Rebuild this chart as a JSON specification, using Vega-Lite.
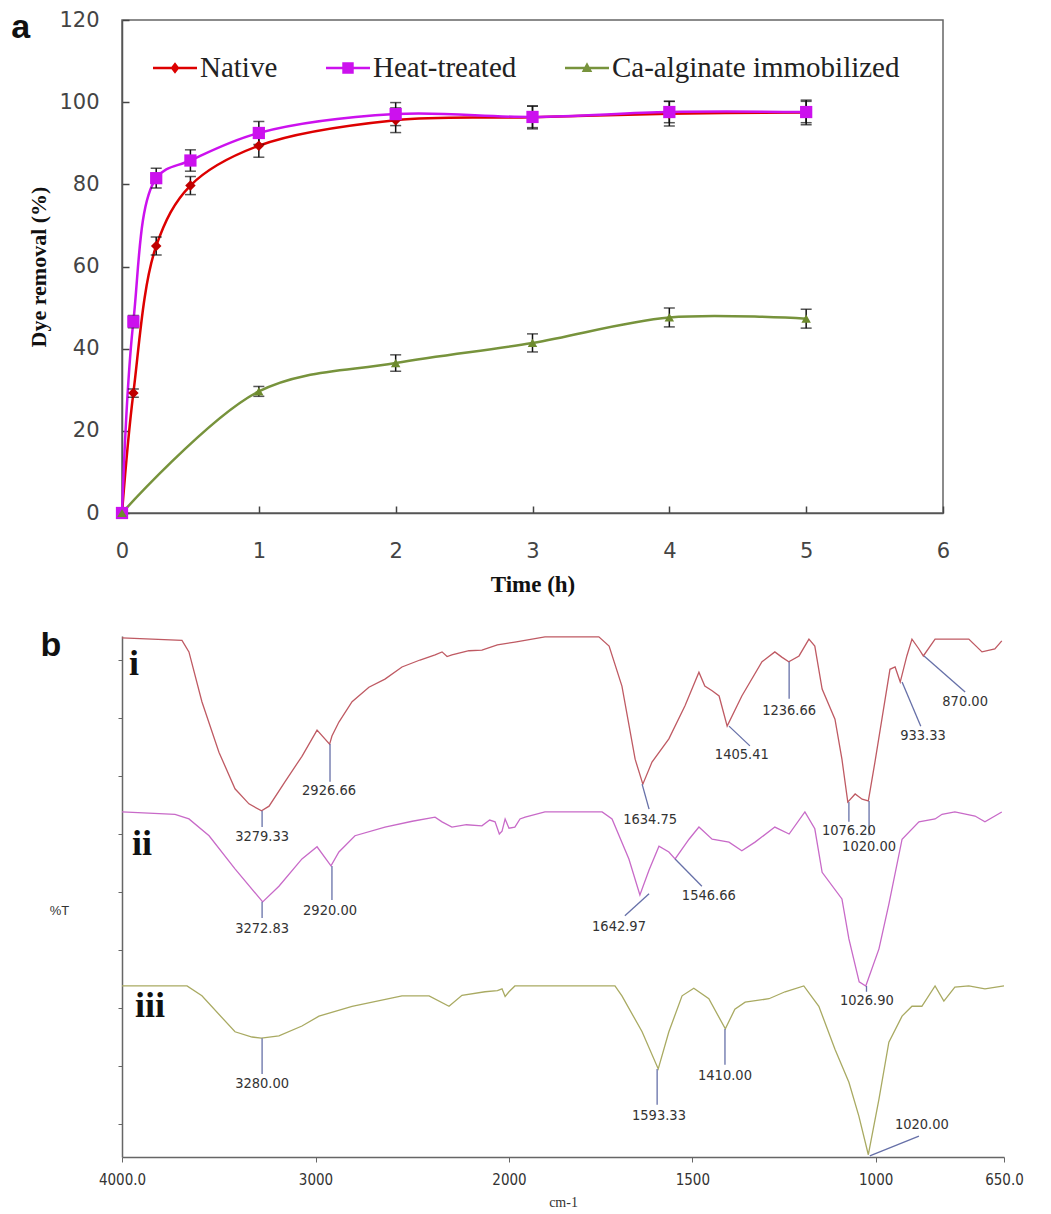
{
  "$schema": "https://vega.github.io/schema/vega-lite/v6.json",
  "background": "white",
  "padding": {"left": 10, "top": 8, "right": 5, "bottom": 5},
  "spacing": 32,
  "config": {"view": {"stroke": null}, "axis": {"grid": false}},
  "resolve": {
    "scale": {"color": "independent", "shape": "independent"},
    "legend": {"color": "independent", "shape": "independent"}
  },
  "datasets": {
    "kin": [
      {"series": "Native", "t": 0, "removal": 0, "sd": 0},
      {"series": "Native", "t": 0.083, "removal": 29.2, "sd": 1.0},
      {"series": "Native", "t": 0.25, "removal": 65.0, "sd": 2.2},
      {"series": "Native", "t": 0.5, "removal": 79.7, "sd": 2.2},
      {"series": "Native", "t": 1, "removal": 89.4, "sd": 2.8},
      {"series": "Native", "t": 2, "removal": 95.6, "sd": 3.0},
      {"series": "Native", "t": 3, "removal": 96.3, "sd": 2.8},
      {"series": "Native", "t": 4, "removal": 97.2, "sd": 3.0},
      {"series": "Native", "t": 5, "removal": 97.5, "sd": 3.0},
      {"series": "Heat-treated", "t": 0, "removal": 0, "sd": 0},
      {"series": "Heat-treated", "t": 0.083, "removal": 46.6, "sd": 1.5},
      {"series": "Heat-treated", "t": 0.25, "removal": 81.5, "sd": 2.4},
      {"series": "Heat-treated", "t": 0.5, "removal": 85.8, "sd": 2.6},
      {"series": "Heat-treated", "t": 1, "removal": 92.5, "sd": 2.8},
      {"series": "Heat-treated", "t": 2, "removal": 97.1, "sd": 2.8},
      {"series": "Heat-treated", "t": 3, "removal": 96.4, "sd": 2.6},
      {"series": "Heat-treated", "t": 4, "removal": 97.6, "sd": 2.6},
      {"series": "Heat-treated", "t": 5, "removal": 97.6, "sd": 2.6},
      {"series": "Ca-alginate immobilized", "t": 0, "removal": 0, "sd": 0},
      {"series": "Ca-alginate immobilized", "t": 1, "removal": 29.6, "sd": 1.2},
      {"series": "Ca-alginate immobilized", "t": 2, "removal": 36.5, "sd": 2.0},
      {"series": "Ca-alginate immobilized", "t": 3, "removal": 41.4, "sd": 2.2},
      {"series": "Ca-alginate immobilized", "t": 4, "removal": 47.6, "sd": 2.3},
      {"series": "Ca-alginate immobilized", "t": 5, "removal": 47.3, "sd": 2.3}
    ],
    "ftir": [
      {"trace": "i", "wn": 4000, "T": 83.8}, {"trace": "i", "wn": 3690, "T": 83.4}, {"trace": "i", "wn": 3654, "T": 81.4},
      {"trace": "i", "wn": 3587, "T": 72.8}, {"trace": "i", "wn": 3499, "T": 64.1}, {"trace": "i", "wn": 3416, "T": 57.8},
      {"trace": "i", "wn": 3344, "T": 55.2}, {"trace": "i", "wn": 3279, "T": 54.0}, {"trace": "i", "wn": 3240, "T": 54.8},
      {"trace": "i", "wn": 3158, "T": 59.0}, {"trace": "i", "wn": 3070, "T": 63.4}, {"trace": "i", "wn": 2992, "T": 67.9},
      {"trace": "i", "wn": 2927, "T": 65.5}, {"trace": "i", "wn": 2915, "T": 66.9}, {"trace": "i", "wn": 2879, "T": 69.3},
      {"trace": "i", "wn": 2811, "T": 72.8}, {"trace": "i", "wn": 2724, "T": 75.3}, {"trace": "i", "wn": 2641, "T": 76.7},
      {"trace": "i", "wn": 2553, "T": 78.8}, {"trace": "i", "wn": 2460, "T": 80.0}, {"trace": "i", "wn": 2382, "T": 80.9},
      {"trace": "i", "wn": 2346, "T": 81.4}, {"trace": "i", "wn": 2320, "T": 80.6}, {"trace": "i", "wn": 2295, "T": 80.9},
      {"trace": "i", "wn": 2207, "T": 81.6}, {"trace": "i", "wn": 2140, "T": 81.7}, {"trace": "i", "wn": 2060, "T": 82.6},
      {"trace": "i", "wn": 1984, "T": 83.1}, {"trace": "i", "wn": 1902, "T": 84.0}, {"trace": "i", "wn": 1755, "T": 84.0},
      {"trace": "i", "wn": 1727, "T": 82.4}, {"trace": "i", "wn": 1692, "T": 75.5}, {"trace": "i", "wn": 1656, "T": 62.9},
      {"trace": "i", "wn": 1635, "T": 58.6}, {"trace": "i", "wn": 1610, "T": 62.4}, {"trace": "i", "wn": 1564, "T": 66.4},
      {"trace": "i", "wn": 1520, "T": 72.1}, {"trace": "i", "wn": 1482, "T": 77.9}, {"trace": "i", "wn": 1466, "T": 75.5},
      {"trace": "i", "wn": 1446, "T": 74.7}, {"trace": "i", "wn": 1427, "T": 73.8}, {"trace": "i", "wn": 1405, "T": 68.6},
      {"trace": "i", "wn": 1365, "T": 73.8}, {"trace": "i", "wn": 1310, "T": 79.7}, {"trace": "i", "wn": 1275, "T": 81.4},
      {"trace": "i", "wn": 1256, "T": 80.5}, {"trace": "i", "wn": 1237, "T": 79.7}, {"trace": "i", "wn": 1209, "T": 80.7},
      {"trace": "i", "wn": 1182, "T": 83.6}, {"trace": "i", "wn": 1166, "T": 82.4}, {"trace": "i", "wn": 1146, "T": 75.0},
      {"trace": "i", "wn": 1111, "T": 69.8}, {"trace": "i", "wn": 1092, "T": 62.9}, {"trace": "i", "wn": 1076, "T": 55.5},
      {"trace": "i", "wn": 1056, "T": 56.9}, {"trace": "i", "wn": 1037, "T": 56.0}, {"trace": "i", "wn": 1020, "T": 55.7},
      {"trace": "i", "wn": 1002, "T": 62.4}, {"trace": "i", "wn": 983, "T": 69.8}, {"trace": "i", "wn": 961, "T": 78.4},
      {"trace": "i", "wn": 947, "T": 78.8}, {"trace": "i", "wn": 933, "T": 76.2}, {"trace": "i", "wn": 915, "T": 80.7},
      {"trace": "i", "wn": 901, "T": 83.6}, {"trace": "i", "wn": 882, "T": 81.9}, {"trace": "i", "wn": 870, "T": 80.7},
      {"trace": "i", "wn": 838, "T": 83.6}, {"trace": "i", "wn": 746, "T": 83.6}, {"trace": "i", "wn": 710, "T": 81.4},
      {"trace": "i", "wn": 675, "T": 81.9}, {"trace": "i", "wn": 656, "T": 83.3},
      {"trace": "ii", "wn": 4000, "T": 53.8}, {"trace": "ii", "wn": 3726, "T": 53.4}, {"trace": "ii", "wn": 3654, "T": 52.6},
      {"trace": "ii", "wn": 3550, "T": 49.7}, {"trace": "ii", "wn": 3416, "T": 44.0}, {"trace": "ii", "wn": 3273, "T": 38.3},
      {"trace": "ii", "wn": 3189, "T": 41.0}, {"trace": "ii", "wn": 3070, "T": 45.7}, {"trace": "ii", "wn": 2992, "T": 47.8},
      {"trace": "ii", "wn": 2920, "T": 44.5}, {"trace": "ii", "wn": 2879, "T": 46.9}, {"trace": "ii", "wn": 2796, "T": 49.7},
      {"trace": "ii", "wn": 2641, "T": 51.2}, {"trace": "ii", "wn": 2500, "T": 52.2}, {"trace": "ii", "wn": 2382, "T": 52.9},
      {"trace": "ii", "wn": 2346, "T": 52.1}, {"trace": "ii", "wn": 2295, "T": 51.2}, {"trace": "ii", "wn": 2220, "T": 51.6},
      {"trace": "ii", "wn": 2140, "T": 51.4}, {"trace": "ii", "wn": 2100, "T": 52.4}, {"trace": "ii", "wn": 2072, "T": 52.1},
      {"trace": "ii", "wn": 2050, "T": 50.0}, {"trace": "ii", "wn": 2036, "T": 50.5}, {"trace": "ii", "wn": 2020, "T": 52.6},
      {"trace": "ii", "wn": 2000, "T": 51.0}, {"trace": "ii", "wn": 1984, "T": 51.2}, {"trace": "ii", "wn": 1970, "T": 52.6},
      {"trace": "ii", "wn": 1956, "T": 52.9}, {"trace": "ii", "wn": 1902, "T": 53.8}, {"trace": "ii", "wn": 1746, "T": 53.8},
      {"trace": "ii", "wn": 1719, "T": 52.6}, {"trace": "ii", "wn": 1673, "T": 45.7}, {"trace": "ii", "wn": 1643, "T": 39.5},
      {"trace": "ii", "wn": 1618, "T": 43.8}, {"trace": "ii", "wn": 1591, "T": 47.9}, {"trace": "ii", "wn": 1564, "T": 46.9},
      {"trace": "ii", "wn": 1547, "T": 45.7}, {"trace": "ii", "wn": 1509, "T": 49.1}, {"trace": "ii", "wn": 1482, "T": 51.2},
      {"trace": "ii", "wn": 1446, "T": 49.1}, {"trace": "ii", "wn": 1400, "T": 48.6}, {"trace": "ii", "wn": 1365, "T": 47.1},
      {"trace": "ii", "wn": 1329, "T": 48.6}, {"trace": "ii", "wn": 1275, "T": 51.2}, {"trace": "ii", "wn": 1236, "T": 50.0},
      {"trace": "ii", "wn": 1193, "T": 53.8}, {"trace": "ii", "wn": 1166, "T": 50.9}, {"trace": "ii", "wn": 1146, "T": 43.4},
      {"trace": "ii", "wn": 1092, "T": 38.8}, {"trace": "ii", "wn": 1073, "T": 31.9}, {"trace": "ii", "wn": 1045, "T": 24.5},
      {"trace": "ii", "wn": 1027, "T": 23.8}, {"trace": "ii", "wn": 991, "T": 30.2}, {"trace": "ii", "wn": 964, "T": 37.9},
      {"trace": "ii", "wn": 928, "T": 49.1}, {"trace": "ii", "wn": 882, "T": 52.1}, {"trace": "ii", "wn": 838, "T": 52.6},
      {"trace": "ii", "wn": 819, "T": 53.4}, {"trace": "ii", "wn": 784, "T": 53.8}, {"trace": "ii", "wn": 729, "T": 53.1},
      {"trace": "ii", "wn": 702, "T": 52.1}, {"trace": "ii", "wn": 656, "T": 53.8},
      {"trace": "iii", "wn": 4000, "T": 23.8}, {"trace": "iii", "wn": 3664, "T": 23.8}, {"trace": "iii", "wn": 3587, "T": 22.1},
      {"trace": "iii", "wn": 3416, "T": 15.9}, {"trace": "iii", "wn": 3328, "T": 15.0}, {"trace": "iii", "wn": 3280, "T": 14.8},
      {"trace": "iii", "wn": 3189, "T": 15.2}, {"trace": "iii", "wn": 3070, "T": 16.9}, {"trace": "iii", "wn": 2982, "T": 18.6},
      {"trace": "iii", "wn": 2811, "T": 20.3}, {"trace": "iii", "wn": 2553, "T": 22.1}, {"trace": "iii", "wn": 2413, "T": 22.1},
      {"trace": "iii", "wn": 2310, "T": 20.3}, {"trace": "iii", "wn": 2243, "T": 22.2}, {"trace": "iii", "wn": 2124, "T": 22.8},
      {"trace": "iii", "wn": 2060, "T": 23.0}, {"trace": "iii", "wn": 2036, "T": 23.3}, {"trace": "iii", "wn": 2020, "T": 22.0},
      {"trace": "iii", "wn": 2000, "T": 22.8}, {"trace": "iii", "wn": 1984, "T": 23.8}, {"trace": "iii", "wn": 1864, "T": 23.8},
      {"trace": "iii", "wn": 1711, "T": 23.8}, {"trace": "iii", "wn": 1692, "T": 22.1}, {"trace": "iii", "wn": 1637, "T": 15.9},
      {"trace": "iii", "wn": 1593, "T": 9.5}, {"trace": "iii", "wn": 1564, "T": 15.9}, {"trace": "iii", "wn": 1528, "T": 22.1},
      {"trace": "iii", "wn": 1496, "T": 23.4}, {"trace": "iii", "wn": 1455, "T": 21.6}, {"trace": "iii", "wn": 1410, "T": 16.4},
      {"trace": "iii", "wn": 1384, "T": 19.8}, {"trace": "iii", "wn": 1356, "T": 21.0}, {"trace": "iii", "wn": 1291, "T": 21.6},
      {"trace": "iii", "wn": 1247, "T": 22.8}, {"trace": "iii", "wn": 1196, "T": 23.8}, {"trace": "iii", "wn": 1155, "T": 20.3},
      {"trace": "iii", "wn": 1111, "T": 12.9}, {"trace": "iii", "wn": 1073, "T": 7.2}, {"trace": "iii", "wn": 1046, "T": 1.4},
      {"trace": "iii", "wn": 1020, "T": -5.3}, {"trace": "iii", "wn": 991, "T": 4.3}, {"trace": "iii", "wn": 964, "T": 14.1},
      {"trace": "iii", "wn": 928, "T": 18.6}, {"trace": "iii", "wn": 901, "T": 20.3}, {"trace": "iii", "wn": 874, "T": 20.3},
      {"trace": "iii", "wn": 838, "T": 23.8}, {"trace": "iii", "wn": 814, "T": 21.2}, {"trace": "iii", "wn": 784, "T": 23.6},
      {"trace": "iii", "wn": 746, "T": 23.8}, {"trace": "iii", "wn": 702, "T": 23.3}, {"trace": "iii", "wn": 650, "T": 23.8}
    ],
    "leaders": [
      {"wn": 3276, "T": 54.0, "wn2": 3276, "T2": 51.2},
      {"wn": 2925, "T": 65.5, "wn2": 2925, "T2": 59.0},
      {"wn": 1637, "T": 58.6, "wn2": 1618, "T2": 54.3},
      {"wn": 1400, "T": 68.6, "wn2": 1343, "T2": 65.2},
      {"wn": 1236, "T": 79.7, "wn2": 1236, "T2": 73.3},
      {"wn": 1073, "T": 55.5, "wn2": 1073, "T2": 52.1},
      {"wn": 1018, "T": 55.7, "wn2": 1018, "T2": 49.8},
      {"wn": 928, "T": 76.2, "wn2": 877, "T2": 68.6},
      {"wn": 868, "T": 80.7, "wn2": 756, "T2": 74.5},
      {"wn": 3276, "T": 38.3, "wn2": 3276, "T2": 35.5},
      {"wn": 2915, "T": 44.5, "wn2": 2915, "T2": 38.6},
      {"wn": 1618, "T": 39.7, "wn2": 1684, "T2": 35.9},
      {"wn": 1547, "T": 45.7, "wn2": 1474, "T2": 41.0},
      {"wn": 1025, "T": 23.8, "wn2": 1025, "T2": 22.8},
      {"wn": 3276, "T": 14.8, "wn2": 3276, "T2": 8.6},
      {"wn": 1596, "T": 9.5, "wn2": 1596, "T2": 3.3},
      {"wn": 1411, "T": 16.4, "wn2": 1411, "T2": 10.2},
      {"wn": 1016, "T": -5.5, "wn2": 882, "T2": -2.1}
    ],
    "peaks": [
      {"label": "3279.33", "wn": 3276, "T": 49.5},
      {"label": "2926.66", "wn": 2930, "T": 57.4},
      {"label": "1634.75", "wn": 1615, "T": 52.4},
      {"label": "1405.41", "wn": 1365, "T": 63.6},
      {"label": "1236.66", "wn": 1236, "T": 71.2},
      {"label": "1076.20", "wn": 1073, "T": 50.5},
      {"label": "1020.00", "wn": 1018, "T": 47.8},
      {"label": "933.33", "wn": 871, "T": 66.9},
      {"label": "870.00", "wn": 756, "T": 72.8},
      {"label": "3272.83", "wn": 3276, "T": 33.6},
      {"label": "2920.00", "wn": 2925, "T": 36.7},
      {"label": "1642.97", "wn": 1700, "T": 34.0},
      {"label": "1546.66", "wn": 1455, "T": 39.3},
      {"label": "1026.90", "wn": 1024, "T": 21.2},
      {"label": "3280.00", "wn": 3276, "T": 6.9},
      {"label": "1593.33", "wn": 1591, "T": 1.4},
      {"label": "1410.00", "wn": 1411, "T": 8.3},
      {"label": "1020.00", "wn": 874, "T": -0.2}
    ],
    "names": [
      {"name": "i", "wn": 3938, "T": 79.3},
      {"name": "ii", "wn": 3897, "T": 48.3},
      {"name": "iii", "wn": 3855, "T": 20.3}
    ]
  },
  "vconcat": [
    {
      "width": 821,
      "height": 493,
      "view": {"stroke": "#666", "strokeWidth": 1.5},
      "encoding": {
        "x": {
          "field": "t", "type": "quantitative",
          "scale": {"domain": [0, 6], "nice": false},
          "axis": {
            "values": [0, 1, 2, 3, 4, 5, 6], "title": "Time (h)",
            "titleFont": "Liberation Serif", "titleFontSize": 23, "titleFontWeight": "bold", "titleColor": "#111", "titlePadding": 12,
            "labelFont": "DejaVu Sans", "labelFontSize": 21, "labelColor": "#444", "labelPadding": 34, "labelFlush": false,
            "tickSize": -7, "tickWidth": 1.5, "tickColor": "#444", "domainColor": "#555", "domainWidth": 1.5
          }
        },
        "y": {
          "field": "removal", "type": "quantitative",
          "scale": {"domain": [0, 120], "nice": false},
          "axis": {
            "values": [0, 20, 40, 60, 80, 100, 120], "title": "Dye removal (%)",
            "titleFont": "Liberation Serif", "titleFontSize": 22, "titleFontWeight": "bold", "titleColor": "#111", "titlePadding": 8,
            "labelFont": "DejaVu Sans", "labelFontSize": 21, "labelColor": "#444", "labelPadding": 30, "labelFlush": false,
            "tickSize": -7, "tickWidth": 1.5, "tickColor": "#444", "domainColor": "#555", "domainWidth": 1.5
          }
        }
      },
      "layer": [
        {
          "data": {"name": "kin"},
          "transform": [{"filter": "datum.series == 'Native'"}],
          "mark": {"type": "line", "interpolate": "catmull-rom", "strokeWidth": 2.5, "color": "#DD0000"}
        },
        {
          "data": {"name": "kin"},
          "transform": [{"filter": "datum.series == 'Heat-treated'"}],
          "mark": {"type": "line", "interpolate": "catmull-rom", "strokeWidth": 2.5, "color": "#CC11EE"}
        },
        {
          "data": {"name": "kin"},
          "transform": [{"filter": "datum.series == 'Ca-alginate immobilized'"}],
          "mark": {"type": "line", "interpolate": "catmull-rom", "strokeWidth": 2.5, "color": "#77933C"}
        },
        {
          "data": {"name": "kin"},
          "transform": [{"filter": "datum.sd > 0"}],
          "mark": {"type": "errorbar", "ticks": {"size": 11, "thickness": 1.5}, "thickness": 1.5},
          "encoding": {"yError": {"field": "sd"}, "color": {"value": "#111"}}
        },
        {
          "data": {"name": "kin"},
          "transform": [{"filter": "datum.series == 'Native'"}],
          "mark": {"type": "point", "shape": "diamond", "filled": true, "color": "#C00000", "size": 110, "opacity": 1}
        },
        {
          "data": {"name": "kin"},
          "transform": [{"filter": "datum.series == 'Heat-treated'"}],
          "mark": {"type": "point", "shape": "square", "filled": true, "color": "#CC11EE", "size": 150, "opacity": 1}
        },
        {
          "data": {"name": "kin"},
          "transform": [{"filter": "datum.series == 'Ca-alginate immobilized'"}],
          "mark": {"type": "point", "shape": "triangle-up", "filled": true, "color": "#6E8B2E", "size": 90, "opacity": 1}
        },
        {
          "data": {"name": "kin"},
          "transform": [{"filter": "datum.t < 0"}],
          "mark": {"type": "point", "filled": true},
          "encoding": {
            "color": {
              "field": "series", "type": "nominal",
              "scale": {"domain": ["Native", "Heat-treated", "Ca-alginate immobilized"], "range": ["#DD0000", "#CC11EE", "#77933C"]},
              "legend": {
                "title": null, "orient": "none", "legendX": 31, "legendY": 26, "direction": "horizontal",
                "labelFont": "Liberation Serif", "labelFontSize": 29, "labelColor": "#222", "labelOffset": 3, "labelLimit": 500,
                "symbolSize": 1936, "symbolOpacity": 1, "symbolStrokeWidth": 0, "columnPadding": 48, "padding": 0
              }
            },
            "shape": {
              "field": "series", "type": "nominal",
              "scale": {
                "domain": ["Native", "Heat-treated", "Ca-alginate immobilized"],
                "range": [
                  "M-1,-0.06H1V0.06H-1Z M0,-0.26L0.2,0L0,0.26L-0.2,0Z",
                  "M-1,-0.06H1V0.06H-1Z M-0.26,-0.26H0.26V0.26H-0.26Z",
                  "M-1,-0.06H1V0.06H-1Z M0,-0.26L0.24,0.18L-0.24,0.18Z"
                ]
              },
              "legend": {
                "title": null, "orient": "none", "legendX": 31, "legendY": 26, "direction": "horizontal",
                "labelFont": "Liberation Serif", "labelFontSize": 29, "labelColor": "#222", "labelOffset": 3, "labelLimit": 500,
                "symbolSize": 1936, "symbolOpacity": 1, "symbolStrokeWidth": 0, "columnPadding": 48, "padding": 0
              }
            }
          }
        },
        {
          "data": {"values": [{"lab": "a", "t": -0.74, "removal": 118}]},
          "mark": {"type": "text", "font": "Liberation Sans", "fontSize": 34, "fontWeight": "bold", "color": "#111", "align": "center", "baseline": "middle"},
          "encoding": {"text": {"field": "lab"}}
        }
      ]
    },
    {
      "width": 882,
      "height": 521,
      "encoding": {
        "x": {
          "field": "wn", "type": "quantitative",
          "scale": {"domain": [4000, 2000, 650], "range": [0, 387, 882], "nice": false, "zero": false},
          "axis": {
            "values": [4000, 3000, 2000, 1500, 1000, 650], "format": "d",
            "labelExpr": "datum.value == 4000 ? '4000.0' : (datum.value == 650 ? '650.0' : datum.label)",
            "title": "cm-1", "titleFont": "Liberation Serif", "titleFontSize": 14, "titleFontWeight": "normal", "titleColor": "#333", "titlePadding": 8,
            "labelFont": "Liberation Sans Narrow, DejaVu Sans Condensed, Liberation Sans", "labelFontSize": 15, "labelColor": "#333", "labelPadding": 10, "labelFlush": false,
            "tickSize": 5, "tickColor": "#666", "domainColor": "#666", "domainWidth": 1.5
          }
        },
        "y": {
          "field": "T", "type": "quantitative",
          "scale": {"domain": [-5.69, 84.14], "nice": false, "zero": false},
          "axis": {
            "values": [0, 10, 20, 30, 40, 50, 60, 70, 80], "labels": false,
            "title": "%T", "titleAngle": 0, "titleX": -63, "titleY": 274, "titleAlign": "center", "titleBaseline": "middle",
            "titleFont": "Liberation Sans", "titleFontSize": 13, "titleFontWeight": "normal", "titleColor": "#333",
            "tickSize": 4, "tickColor": "#666", "domainColor": "#666", "domainWidth": 1.5
          }
        }
      },
      "layer": [
        {
          "data": {"name": "ftir"},
          "mark": {"type": "line", "strokeWidth": 1.3},
          "encoding": {
            "color": {
              "field": "trace", "type": "nominal",
              "scale": {"domain": ["i", "ii", "iii"], "range": ["#BF5A63", "#C86AC8", "#A9AA62"]},
              "legend": null
            }
          }
        },
        {
          "data": {"name": "leaders"},
          "mark": {"type": "rule", "color": "#6670A8", "strokeWidth": 1.3},
          "encoding": {"x2": {"field": "wn2"}, "y2": {"field": "T2"}}
        },
        {
          "data": {"name": "peaks"},
          "mark": {"type": "text", "font": "Liberation Sans Narrow, DejaVu Sans Condensed, Liberation Sans", "fontSize": 14.5, "color": "#333", "align": "center", "baseline": "middle"},
          "encoding": {"text": {"field": "label"}}
        },
        {
          "data": {"name": "names"},
          "mark": {"type": "text", "font": "Liberation Serif", "fontSize": 36, "fontWeight": "bold", "color": "#111", "align": "center", "baseline": "middle"},
          "encoding": {"text": {"field": "name"}}
        },
        {
          "data": {"values": [{"lab": "b", "wn": 4367, "T": 82.4}]},
          "mark": {"type": "text", "font": "Liberation Sans", "fontSize": 34, "fontWeight": "bold", "color": "#111", "align": "center", "baseline": "middle"},
          "encoding": {"text": {"field": "lab"}}
        }
      ]
    }
  ]
}
